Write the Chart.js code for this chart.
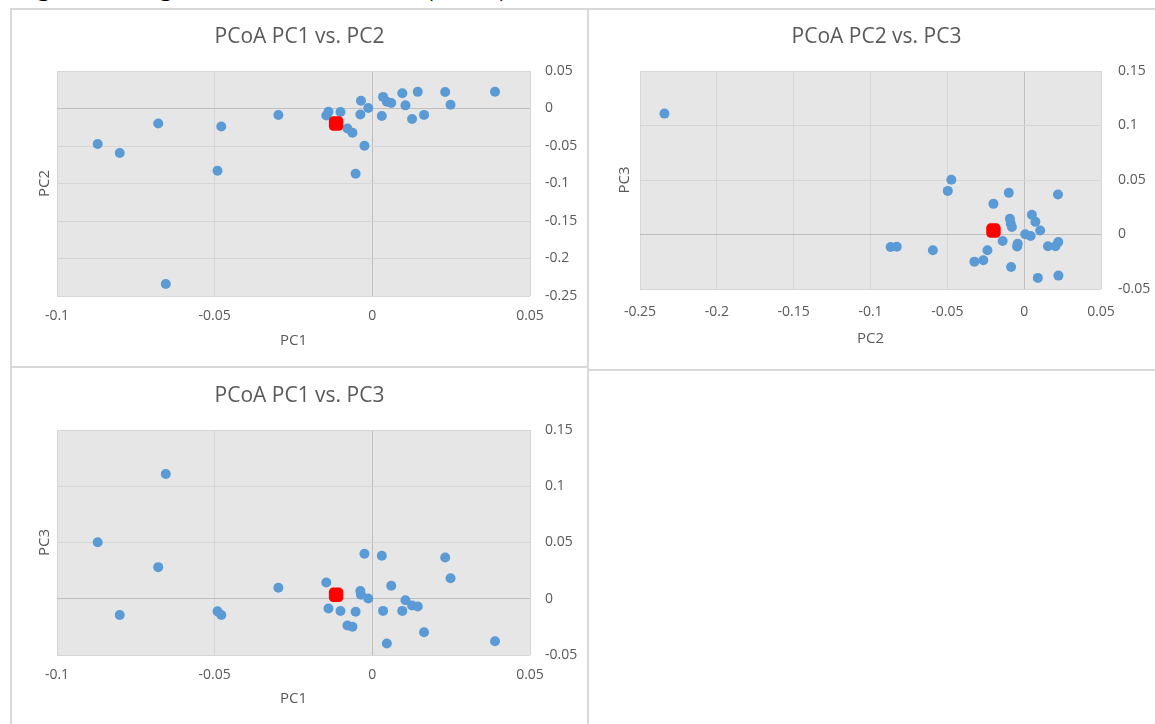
<!DOCTYPE html>
<html>
<head>
<meta charset="utf-8">
<script src="https://cdn.jsdelivr.net/npm/chart.js@4.4.1/dist/chart.umd.min.js"></script>
<style>
  html, body { margin: 0; padding: 0; background: #fff; }
  body { position: relative; width: 1155px; height: 724px; overflow: hidden; }
  .caption { position: absolute; left: 14px; top: -25px; font: bold 26px/26px 'Liberation Serif', serif; color: #000; white-space: nowrap; }
  .panel { position: absolute; }
  .panel canvas { display: block; }
  .rule { position: absolute; background: #d9d9d9; }
</style>
</head>
<body>
<div class="caption">Figure 3: weighted UniFrac distance (PCoA)</div>

<div class="rule" style="left:10px;top:8px;width:1145px;height:2px"></div>
<div class="rule" style="left:10px;top:8px;width:2px;height:716px"></div>
<div class="rule" style="left:587px;top:8px;width:2px;height:716px"></div>
<div class="rule" style="left:10px;top:366px;width:578px;height:2px"></div>
<div class="rule" style="left:588px;top:369px;width:567px;height:2px"></div>

<div class="panel" style="left:11px;top:9px"><canvas id="pc12" width="577" height="358"></canvas></div>
<div class="panel" style="left:588px;top:9px"><canvas id="pc23" width="577" height="362"></canvas></div>
<div class="panel" style="left:11px;top:367px"><canvas id="pc13" width="577" height="360"></canvas></div>

<script>
// Principal coordinates of the samples (one entry per sample, same order in each array)
const pc1 = [-0.0871, -0.0801, -0.0679, -0.0655, -0.0491, -0.0479, -0.0298, -0.0146, -0.0139, -0.0101,
             -0.0079, -0.0063, -0.0053, -0.0038, -0.0036, -0.0025, -0.0013, 0.0030, 0.0034, 0.0046,
             0.0060, 0.0095, 0.0105, 0.0126, 0.0144, 0.0164, 0.0231, 0.0248, 0.0389];
const pc2 = [-0.0474, -0.0594, -0.0200, -0.2341, -0.0829, -0.0239, -0.0087, -0.0093, -0.0042, -0.0046,
             -0.0266, -0.0324, -0.0869, -0.0080, 0.0104, -0.0497, 0.0007, -0.0100, 0.0155, 0.0089,
             0.0073, 0.0204, 0.0042, -0.0140, 0.0222, -0.0085, 0.0220, 0.0050, 0.0223];
const pc3 = [0.0503, -0.0145, 0.0281, 0.1109, -0.0112, -0.0145, 0.0098, 0.0145, -0.0086, -0.0109,
             -0.0237, -0.0249, -0.0115, 0.0068, 0.0036, 0.0400, 0.0003, 0.0382, -0.0108, -0.0398,
             0.0116, -0.0108, -0.0014, -0.0060, -0.0068, -0.0298, 0.0367, 0.0182, -0.0377];

// Highlighted sample (red square)
const refPC1 = [-0.0115];
const refPC2 = [-0.0200];
const refPC3 = [0.0036];

// Axis ticks
const pc1Ticks = [-0.1, -0.05, 0, 0.05];
const pc2TicksX = [-0.25, -0.2, -0.15, -0.1, -0.05, 0, 0.05];
const pc2TicksY = [-0.25, -0.2, -0.15, -0.1, -0.05, 0, 0.05];
const pc3Ticks = [-0.05, 0, 0.05, 0.1, 0.15];

const FONT = "'Open Sans', 'Noto Sans', sans-serif";
const TEXT = '#595959';
const PLOT_BG = '#e7e6e6';
const GRID = '#d6d6d6';
const ZERO = '#bfbfbf';

const plotBackground = {
  id: 'plotBackground',
  beforeDraw(chart) {
    const { ctx, chartArea: a } = chart;
    ctx.save();
    ctx.fillStyle = PLOT_BG;
    ctx.fillRect(a.left, a.top, a.right - a.left, a.bottom - a.top);
    ctx.restore();
  }
};

function pairs(xs, ys) {
  return xs.map((x, i) => ({ x: x, y: ys[i] }));
}

function gridColor(c) {
  return c.tick && Math.abs(c.tick.value) < 1e-9 ? ZERO : GRID;
}

function fixedTicks(values) {
  return function (scale) { scale.ticks = values.map(v => ({ value: v })); };
}

function scatterPanel(id, p) {
  const canvas = document.getElementById(id);
  const W = canvas.width, H = canvas.height, A = p.area;
  const titleLH = 21 * 1.2, tickLH = 14 * 1.2, axisLH = 15 * 1.2;
  return new Chart(canvas, {
    type: 'scatter',
    data: {
      datasets: [
        {
          data: pairs(p.refX, p.refY),
          pointStyle: 'rectRounded',
          pointRadius: 8.4, pointHoverRadius: 8.4,
          backgroundColor: '#ff0000', borderWidth: 0
        },
        {
          data: pairs(p.xs, p.ys),
          pointStyle: 'circle',
          pointRadius: 5, pointHoverRadius: 5,
          backgroundColor: '#5b9bd5', borderWidth: 0
        }
      ]
    },
    options: {
      responsive: false,
      animation: false,
      devicePixelRatio: 1,
      layout: { padding: 0 },
      plugins: {
        legend: { display: false },
        tooltip: { enabled: false },
        title: {
          display: true,
          text: p.title,
          color: TEXT,
          font: { family: FONT, size: 21, weight: 'normal' },
          padding: { top: p.titleY - titleLH / 2, bottom: A.top - p.titleY - titleLH / 2 }
        }
      },
      scales: {
        x: {
          type: 'linear', position: 'bottom',
          min: p.xTicks[0], max: p.xTicks[p.xTicks.length - 1],
          afterBuildTicks: fixedTicks(p.xTicks),
          afterFit(s) { s.height = H - A.bottom; },
          grid: { color: gridColor, lineWidth: 1, drawTicks: false },
          border: { display: false },
          ticks: {
            color: TEXT, font: { family: FONT, size: 14 },
            padding: p.xTickY - A.bottom - tickLH / 2,
            maxRotation: 0, autoSkip: false,
            callback: v => String(Number(v.toFixed(2)))
          },
          title: {
            display: true, text: p.xTitle, color: TEXT,
            font: { family: FONT, size: 15 },
            padding: { top: 0, bottom: H - p.xTitleY - axisLH / 2 }
          }
        },
        y: {
          type: 'linear', position: 'right',
          min: p.yTicks[0], max: p.yTicks[p.yTicks.length - 1],
          afterBuildTicks: fixedTicks(p.yTicks),
          afterFit(s) { s.width = W - A.right; },
          grid: { color: gridColor, lineWidth: 1, drawTicks: false },
          border: { display: false },
          ticks: {
            color: TEXT, font: { family: FONT, size: 14 },
            padding: p.yTickPad, autoSkip: false,
            callback: v => String(Number(v.toFixed(2)))
          }
        },
        yTitle: {
          type: 'linear', position: 'left',
          afterFit(s) { s.width = A.left; },
          grid: { display: false, drawTicks: false },
          border: { display: false },
          ticks: { display: false },
          title: {
            display: true, text: p.yTitle, color: TEXT,
            font: { family: FONT, size: 15 },
            padding: { top: p.yTitleX - axisLH / 2, bottom: 0 }
          }
        }
      }
    },
    plugins: [plotBackground]
  });
}

scatterPanel('pc12', {
  title: 'PCoA PC1 vs. PC2', xTitle: 'PC1', yTitle: 'PC2',
  xs: pc1, ys: pc2, refX: refPC1, refY: refPC2,
  xTicks: pc1Ticks, yTicks: pc2TicksY,
  area: { left: 46, right: 519, top: 62, bottom: 287 },
  titleY: 28, xTickY: 307, xTitleY: 332, yTickPad: 15, yTitleX: 34
});

scatterPanel('pc23', {
  title: 'PCoA PC2 vs. PC3', xTitle: 'PC2', yTitle: 'PC3',
  xs: pc2, ys: pc3, refX: refPC2, refY: refPC3,
  xTicks: pc2TicksX, yTicks: pc3Ticks,
  area: { left: 52, right: 513, top: 62, bottom: 280 },
  titleY: 28, xTickY: 303, xTitleY: 330, yTickPad: 17, yTitleX: 37
});

scatterPanel('pc13', {
  title: 'PCoA PC1 vs. PC3', xTitle: 'PC1', yTitle: 'PC3',
  xs: pc1, ys: pc3, refX: refPC1, refY: refPC3,
  xTicks: pc1Ticks, yTicks: pc3Ticks,
  area: { left: 46, right: 519, top: 63, bottom: 288 },
  titleY: 29, xTickY: 308, xTitleY: 332, yTickPad: 15, yTitleX: 34
});
</script>
</body>
</html>
